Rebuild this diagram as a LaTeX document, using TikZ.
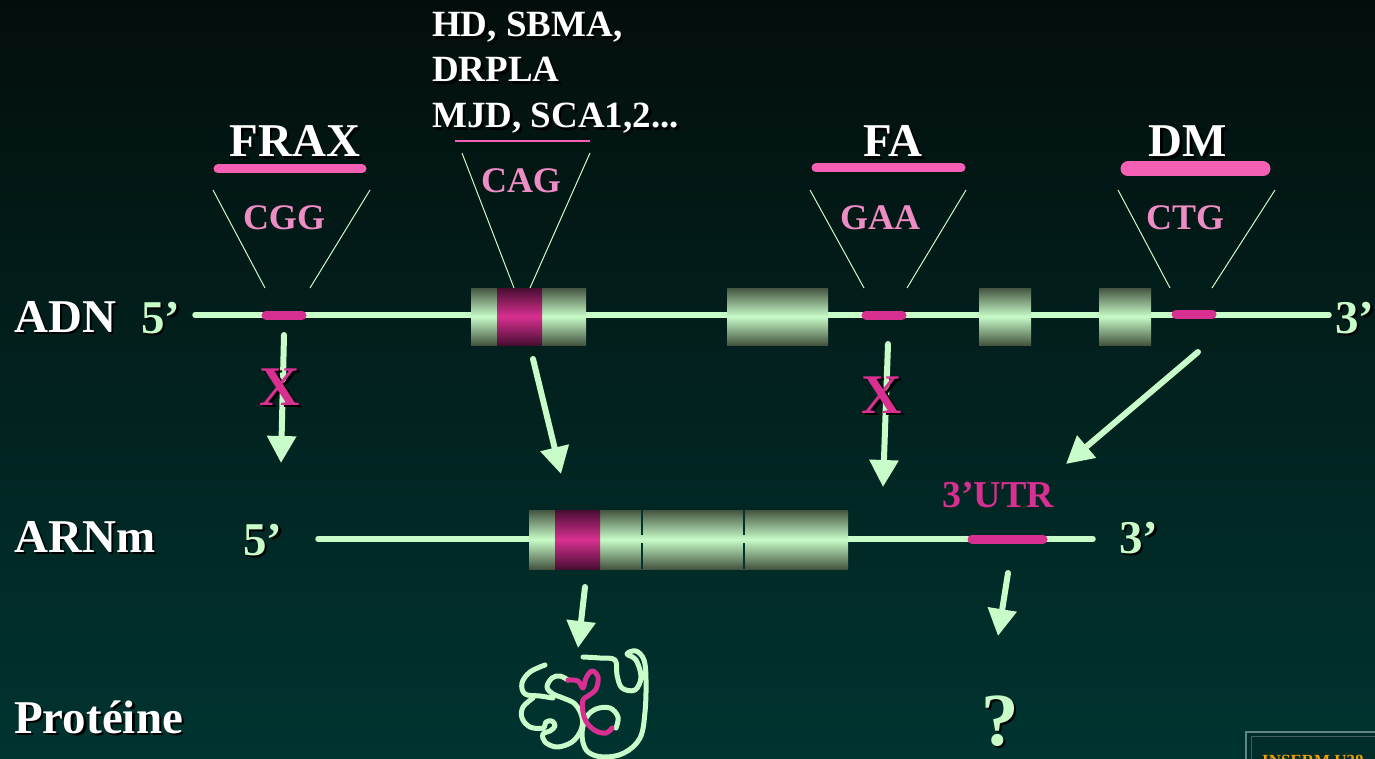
\documentclass[tikz,border=0pt]{standalone}
\usepackage{fontspec}
\setmainfont{Liberation Serif}
\usetikzlibrary{arrows.meta, calc}

\definecolor{bgTop}{RGB}{3,14,12}
\definecolor{bgBottom}{RGB}{0,52,48}
\definecolor{strand}{RGB}{200,252,200}
\definecolor{exonDark}{RGB}{68,84,64}
\definecolor{repeatMag}{RGB}{216,48,144}
\definecolor{repeatDark}{RGB}{72,14,50}
\definecolor{barPink}{RGB}{245,96,180}
\definecolor{codonPink}{RGB}{238,140,196}
\definecolor{insermOrange}{RGB}{240,160,0}
\definecolor{frameGrey}{RGB}{95,135,130}

% label with a drop shadow: name, position, colour, style, text
\newcommand{\shadowLabel}[5]{%
  \node[#4, text=black] (#1Sh) at ($(#2)+(2.5,2.5)$) {#5};
  \node[#4, text=#3] (#1) at (#2) {#5};
}

\begin{document}
\begin{tikzpicture}[x=1pt, y=-1pt,
  strandLine/.style={draw=strand, line width=5.5pt, line cap=round},
  repeatSeg/.style={draw=repeatMag, line width=9pt, line cap=round},
  diseaseBar/.style={draw=barPink, line width=9pt, line cap=round},
  wedge/.style={draw=strand, line width=1pt},
  flow/.style={draw=strand, line width=6pt, line cap=round, -{Triangle[width=28pt,length=27pt]}},
  bigText/.style={font=\fontsize{47}{50}\selectfont\bfseries, inner sep=0pt, anchor=base},
  listText/.style={font=\fontsize{37}{40}\selectfont\bfseries, inner sep=0pt, anchor=base west},
  codonText/.style={font=\fontsize{36}{40}\selectfont\bfseries, inner sep=0pt, anchor=base},
  crossText/.style={font=\fontsize{56}{60}\selectfont\bfseries, inner sep=0pt, anchor=base}]

\useasboundingbox (0,0) rectangle (1375,759);
\clip (0,0) rectangle (1375,759);

% Background
\fill[top color=bgTop, bottom color=bgBottom] (0,0) rectangle (1375,759);

% Draw DNA strand
\draw[strandLine] (195,315) -- (1329,315);
\foreach \xa/\xb in {471/586, 727/828, 979/1031, 1099/1151}
  \fill[top color=exonDark, bottom color=exonDark, middle color=strand] (\xa,288) rectangle (\xb,345);
\fill[top color=repeatDark, bottom color=repeatDark, middle color=repeatMag] (497,288) rectangle (542,345);
\draw[repeatSeg] (266,315) -- (302,315);
\draw[repeatSeg] (866,315) -- (902,315);
\draw[repeatSeg] (1176,314) -- (1212,314);

% Draw mRNA
\draw[strandLine] (318,539) -- (1093,539);
\fill[top color=exonDark, bottom color=exonDark, middle color=strand] (529,510) rectangle (848,569);
\fill[top color=repeatDark, bottom color=repeatDark, middle color=repeatMag] (555,510) rectangle (600,569);
\foreach \xd in {642, 744} {
  \draw[bgBottom, line width=1.2pt] (\xd,510) -- (\xd,535);
  \draw[bgBottom, line width=1.2pt] (\xd,543) -- (\xd,569);
}
\draw[repeatSeg] (972,539) -- (1043,539);

% Disease bars and repeat wedges
\draw[diseaseBar] (218,169) -- (362,169);
\draw[diseaseBar] (816,168) -- (961,168);
\draw[diseaseBar, line width=15pt] (1128,169) -- (1263,169);
\draw[barPink, line width=2pt] (455,141) -- (590,141);
\foreach \ta/\ba/\tb/\bb/\yt in {213/265/370/310/190, 462/514/590/530/153, 810/864/966/907/190, 1118/1170/1275/1212/190} {
  \draw[wedge] (\ta,\yt) -- (\ba,288);
  \draw[wedge] (\tb,\yt) -- (\bb,288);
}

% Row labels
\shadowLabel{adnLabel}{14,332}{white}{bigText, anchor=base west}{ADN}
\shadowLabel{arnLabel}{14,552}{white}{bigText, anchor=base west}{ARNm}
\shadowLabel{protLabel}{14,733}{white}{bigText, anchor=base west}{Protéine}
\shadowLabel{adnFive}{161,333}{strand}{bigText}{5’}
\shadowLabel{adnThree}{1355,333}{strand}{bigText}{3’}
\shadowLabel{arnFive}{263,555}{strand}{bigText}{5’}
\shadowLabel{arnThree}{1139,553}{strand}{bigText}{3’}

% Diseases
\shadowLabel{frax}{295,157}{white}{bigText}{FRAX}
\shadowLabel{fa}{893,157}{white}{bigText}{FA}
\shadowLabel{dm}{1188,157}{white}{bigText}{DM}
\shadowLabel{hdLine}{432,37}{white}{listText}{HD, SBMA,}
\shadowLabel{drplaLine}{432,82}{white}{listText}{DRPLA}
\shadowLabel{mjdLine}{432,128}{white}{listText}{MJD, SCA1,2...}

% Repeats
\node[codonText, text=codonPink] (cgg) at (284,230) {CGG};
\node[codonText, text=codonPink] (cag) at (521,193) {CAG};
\node[codonText, text=codonPink] (gaa) at (880,230) {GAA};
\node[codonText, text=codonPink] (ctg) at (1185,230) {CTG};
\node[codonText, font=\fontsize{38}{40}\selectfont\bfseries, text=repeatMag] (utr) at (998,507) {3’UTR};

% Arrows
\coordinate (fraxFrom) at (284,335);
\coordinate (fraxTo) at (281,463);
\coordinate (cagFrom) at (533,359);
\coordinate (cagTo) at (561,474);
\coordinate (faFrom) at (888,344);
\coordinate (faTo) at (883,487);
\coordinate (dmFrom) at (1198,352);
\coordinate (dmTo) at (1066,464);
\coordinate (protFrom) at (585,587);
\coordinate (protTo) at (578,648);
\coordinate (utrFrom) at (1008,573);
\coordinate (utrTo) at (998,636);
\draw[flow] (fraxFrom) -- (fraxTo);
\draw[flow] (cagFrom) -- (cagTo);
\draw[flow] (faFrom) -- (faTo);
\draw[flow] (dmFrom) -- (dmTo);
\draw[flow] (protFrom) -- (protTo);
\draw[flow] (utrFrom) -- (utrTo);

% Blocked steps
\shadowLabel{xFrax}{280,405}{repeatMag}{crossText}{X}
\shadowLabel{xFa}{882,413}{repeatMag}{crossText}{X}

% Draw protein
\draw[strand, line width=5pt, line cap=round, line join=round] plot[smooth, tension=0.6] coordinates {
  (583,657) (600,658) (615,660) (617,675) (622,688) (635,690) (641,677) (636,660) (627,654)
  (636,651) (644,660) (646,680) (645,712) (640,738) (624,753) (603,757) (587,751) (582,735)
  (586,718) (596,709) (610,708) (618,717) (616,728)};
\draw[strand, line width=5pt, line cap=round, line join=round] plot[smooth, tension=0.6] coordinates {
  (545,665) (530,672) (522,683) (525,694) (540,696) (553,698)};
\draw[strand, line width=5pt, line cap=round, line join=round] plot[smooth, tension=0.6] coordinates {
  (533,698) (523,707) (522,718) (530,727) (543,728) (546,722) (552,721) (555,726) (550,731)
  (543,734) (545,742) (557,747) (572,742) (581,730) (582,717) (575,704) (563,698) (553,694)
  (547,687) (552,678) (560,676) (568,680)};
\draw[repeatMag, line width=5pt, line cap=round, line join=round] plot[smooth, tension=0.6] coordinates {
  (568,680) (578,681) (583,688) (586,678) (592,671) (598,677) (596,689) (588,696) (583,700)
  (583,712) (587,723) (596,731) (606,733) (612,728)};

% Unknown effect
\shadowLabel{unknown}{1000,745}{strand}{bigText, font=\fontsize{75}{80}\selectfont\bfseries}{?}

% Lab tag
\fill[bgBottom!85!black] (1245,731) rectangle (1380,765);
\draw[frameGrey, line width=2pt] (1246,732) rectangle (1380,765);
\draw[frameGrey!70!black, line width=1pt] (1251,736) rectangle (1380,765);
\node[font=\fontsize{17}{18}\selectfont\bfseries, text=insermOrange, inner sep=0pt, anchor=base west] (inserm) at (1262,766) {INSERM U38};
\end{tikzpicture}
\end{document}
